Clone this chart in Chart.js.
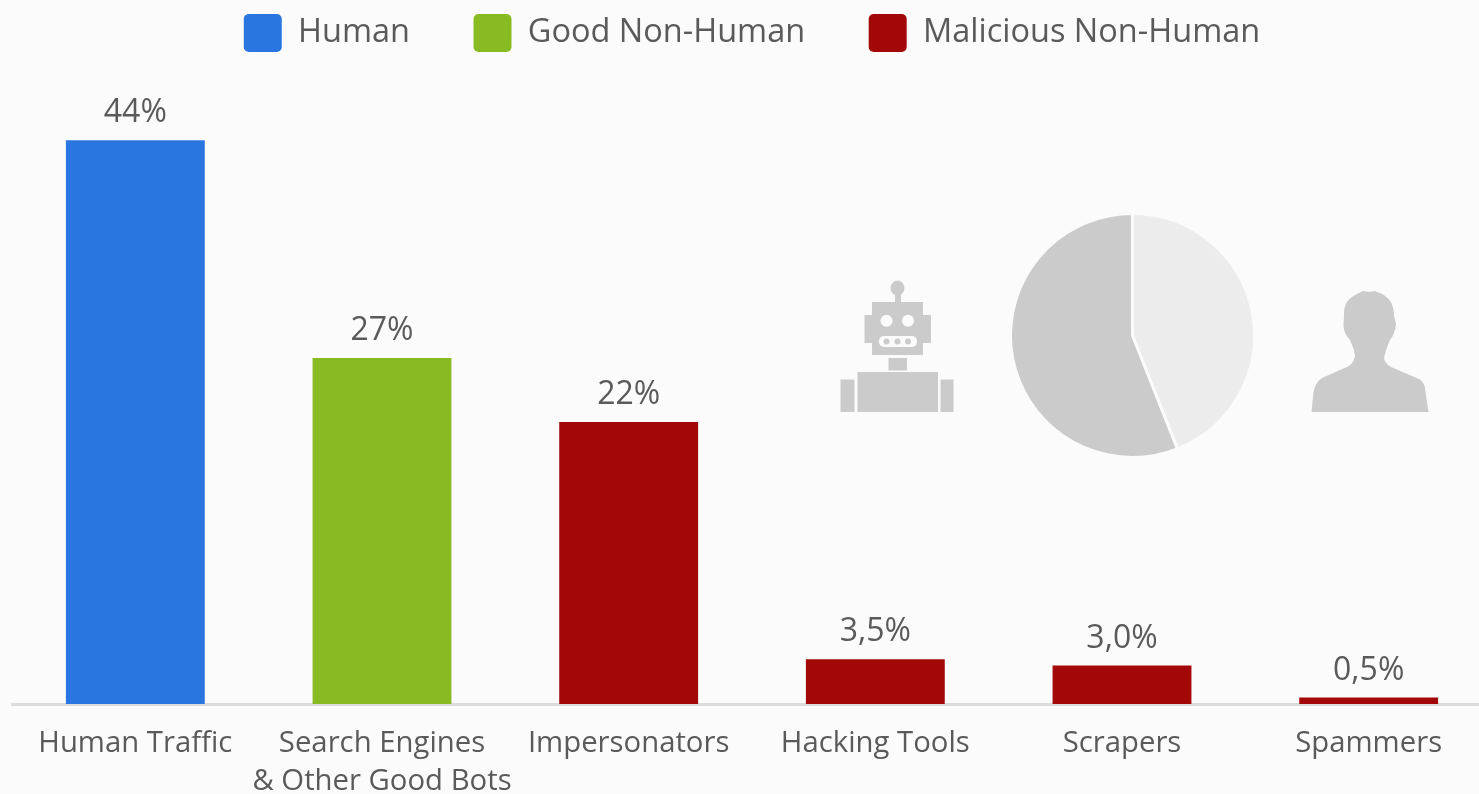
<!DOCTYPE html>
<html>
<head>
<meta charset="utf-8">
<script src="https://cdn.jsdelivr.net/npm/chart.js@4"></script>
<style>
html,body{margin:0;padding:0;width:1479px;height:794px;overflow:hidden;background:#fbfbfb}
#wrap{position:relative;width:1479px;height:794px;overflow:hidden}
#main{position:absolute;left:0;top:0;width:1509px;height:794px}
#pie{position:absolute;left:1009px;top:212px;width:247px;height:247px}
#icons{position:absolute;left:0;top:0}
</style>
</head>
<body>
<div id="wrap">
<svg id="icons" width="1479" height="794" fill="#cbcbcb">
  <ellipse cx="897.5" cy="288" rx="7" ry="7.5"/>
  <rect x="895" y="294" width="6" height="9"/>
  <rect x="872" y="302" width="51" height="53"/>
  <rect x="864.5" y="315" width="66.5" height="28"/>
  <ellipse cx="886.5" cy="320.7" rx="6" ry="6" fill="#fbfbfb"/>
  <ellipse cx="908" cy="320.7" rx="6" ry="6" fill="#fbfbfb"/>
  <rect x="879" y="336" width="38" height="11" rx="5" fill="#fbfbfb"/>
  <circle cx="886.5" cy="341.5" r="3"/>
  <circle cx="897.5" cy="341.5" r="3"/>
  <circle cx="908" cy="341.5" r="3"/>
  <rect x="888.5" y="358" width="18.5" height="12.5"/>
  <rect x="857.5" y="372" width="80.5" height="40"/>
  <rect x="840.5" y="379.5" width="14" height="32.5"/>
  <rect x="940.5" y="379.5" width="13" height="32.5"/>
  <path d="M1311.5 412 L1313.5 392 Q1315 383 1322 378 L1349 366 Q1354 362 1355 356 L1354 350 L1350 340 Q1344 334 1343.5 326 L1344 316 Q1343 300 1357 294 L1363 291 L1369 292 L1375 291 L1382 294 Q1394 300 1394 316 L1396 324 Q1395 334 1390 340 L1386 350 L1384 358 Q1385 364 1391 367 L1419 379 Q1425 382 1425.5 392 L1428.5 412 Z"/>
</svg>
<canvas id="main" width="1509" height="794"></canvas>
<canvas id="pie" width="247" height="247"></canvas>
</div>
<script>
const categories = ["Human Traffic", ["Search Engines", "& Other Good Bots"], "Impersonators", "Hacking Tools", "Scrapers", "Spammers"];
const seriesNames = ["Human", "Good Non-Human", "Malicious Non-Human"];
const humanValues = [44, null, null, null, null, null];
const goodValues = [null, 27, null, null, null, null];
const maliciousValues = [null, null, 22, 3.5, 3.0, 0.5];
const valueLabels = ["44%", "27%", "22%", "3,5%", "3,0%", "0,5%"];
const shareValues = [44, 56];

const seriesColors = ["#2a76e0", "#88bb22", "#a30808"];
const textColor = "#5a5a5a";
const fontFamily = "'Open Sans', sans-serif";

const valueLabelPlugin = {
  id: "valueLabels",
  afterDatasetsDraw(chart) {
    const { ctx, scales: { x, y } } = chart;
    ctx.save();
    ctx.fillStyle = textColor;
    ctx.font = "32px " + fontFamily;
    ctx.textAlign = "center";
    ctx.textBaseline = "alphabetic";
    valueLabels.forEach((label, i) => {
      const v = humanValues[i] ?? goodValues[i] ?? maliciousValues[i];
      ctx.fillText(label, x.getPixelForValue(i), y.getPixelForValue(v) - 18);
    });
    ctx.restore();
  }
};

const bar = (label, data, color) => ({ label, data, backgroundColor: color, borderWidth: 0, barPercentage: 0.563, categoryPercentage: 1 });

new Chart(document.getElementById("main"), {
  type: "bar",
  data: {
    labels: categories,
    datasets: [
      bar(seriesNames[0], humanValues, seriesColors[0]),
      bar(seriesNames[1], goodValues, seriesColors[1]),
      bar(seriesNames[2], maliciousValues, seriesColors[2])
    ]
  },
  plugins: [valueLabelPlugin],
  options: {
    responsive: false,
    animation: false,
    layout: { padding: { left: 12, right: 17, top: -49.5, bottom: 0 } },
    plugins: {
      tooltip: { enabled: false },
      legend: {
        position: "top",
        onClick: null,
        labels: {
          boxWidth: 38, boxHeight: 38, padding: 63.5,
          useBorderRadius: true, borderRadius: 5,
          color: textColor,
          font: { family: fontFamily, size: 32.5 }
        }
      }
    },
    scales: {
      x: {
        stacked: true,
        grid: { display: false },
        border: { color: "#dcdcdc", width: 3 },
        ticks: {
          color: textColor, maxRotation: 0, minRotation: 0, autoSkip: false, padding: 13,
          font: { family: fontFamily, size: 29.3, lineHeight: 1.297 }
        },
        afterFit(scale) { scale.height = 90; }
      },
      y: { stacked: true, display: false, min: 0, max: 50.1 }
    }
  }
});

new Chart(document.getElementById("pie"), {
  type: "pie",
  data: {
    labels: ["Human", "Non-Human"],
    datasets: [{ data: shareValues, backgroundColor: ["#ececec", "#cbcbcb"], borderColor: "#fbfbfb", borderWidth: 3 }]
  },
  options: {
    responsive: false,
    animation: false,
    layout: { padding: 0 },
    plugins: { legend: { display: false }, tooltip: { enabled: false } }
  }
});
</script>
</body>
</html>
